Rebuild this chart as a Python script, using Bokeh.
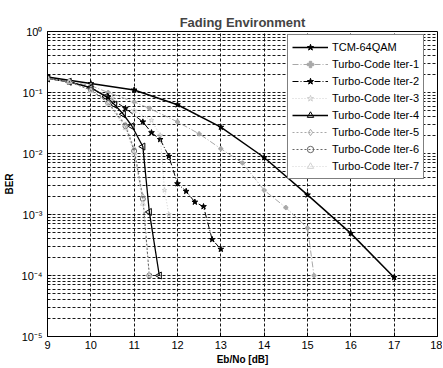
from bokeh.plotting import figure
from bokeh.models import FixedTicker, Legend, LegendItem
from bokeh.embed import file_html
from bokeh.resources import INLINE
import numpy as np

# ---- data ----
tcm_x = [9, 10, 11, 12, 13, 14, 15, 16, 17]
tcm_y = [0.18, 0.14, 0.11, 0.063, 0.027, 0.0086, 0.0021, 0.00049, 0.000093]

it1_x = [9, 9.5, 10, 10.4, 11, 11.35, 12, 12.5, 13, 13.5, 14, 14.5, 15, 15.15]
it1_y = [0.17, 0.15, 0.13, 0.1, 0.07, 0.055, 0.033, 0.021, 0.012, 0.007, 0.0025, 0.0013, 0.0006, 0.0001]

it2_x = [9, 9.5, 10, 10.4, 10.8, 11.2, 11.4, 11.6, 11.8, 12.0, 12.2, 12.4, 12.6, 12.8, 13.0]
it2_y = [0.17, 0.15, 0.12, 0.085, 0.055, 0.033, 0.022, 0.017, 0.009, 0.0032, 0.0024, 0.0016, 0.00135, 0.00039, 0.00027]

it3_x = [9, 9.5, 10, 10.5, 11, 11.4, 11.6, 11.7, 11.8]
it3_y = [0.17, 0.15, 0.12, 0.08, 0.05, 0.035, 0.02, 0.0025, 0.001]

it4_x = [9, 9.5, 10, 10.35, 10.55, 10.75, 10.95, 11.2, 11.35, 11.58]
it4_y = [0.17, 0.15, 0.12, 0.085, 0.063, 0.044, 0.028, 0.013, 0.0011, 0.0001]

it5_x = [9, 9.5, 10, 10.4, 10.8, 11.0, 11.2, 11.35]
it5_y = [0.17, 0.15, 0.11, 0.07, 0.03, 0.012, 0.002, 0.0001]

it6_x = [9, 9.5, 10, 10.4, 10.8, 11.0, 11.2, 11.35]
it6_y = [0.17, 0.15, 0.11, 0.068, 0.028, 0.011, 0.0018, 0.0001]

it7_x = [9, 9.5, 10, 10.4, 10.8, 11.0, 11.2, 11.35]
it7_y = [0.17, 0.15, 0.105, 0.065, 0.026, 0.01, 0.0015, 0.0001]

series_names = ["TCM-64QAM", "Turbo-Code Iter-1", "Turbo-Code Iter-2", "Turbo-Code Iter-3",
                "Turbo-Code Iter-4", "Turbo-Code Iter-5", "Turbo-Code Iter-6", "Turbo-Code Iter-7"]

x_ticks = [9, 10, 11, 12, 13, 14, 15, 16, 17, 18]
y_ticks = [1e-5, 1e-4, 1e-3, 1e-2, 1e-1, 1.0]
y_tick_labels = ["10\u207b\u2075", "10\u207b\u2074", "10\u207b\u00b3", "10\u207b\u00b2", "10\u207b\u00b9", "10\u2070"]

FONT = "Liberation Sans"

p = figure(frame_width=390, frame_height=305, x_range=(9, 18), y_range=(1e-5, 1),
           y_axis_type="log", output_backend="svg", toolbar_location=None,
           min_border_left=40, min_border_right=5, min_border_top=31, min_border_bottom=33,
           title="Fading Environment")
p.background_fill_color = "white"
p.border_fill_color = "white"
p.outline_line_color = "black"
p.outline_line_width = 1

p.title.align = "center"
p.title.text_font = FONT
p.title.text_font_size = "13px"
p.title.text_font_style = "bold"
p.title.standoff = 3
p.title.offset = 0

p.xaxis.ticker = FixedTicker(ticks=x_ticks)
p.yaxis.ticker = FixedTicker(ticks=y_ticks, minor_ticks=[m * 10.0 ** e for e in range(-5, 0) for m in range(2, 10)])
p.yaxis.major_label_overrides = {v: l for v, l in zip(y_ticks, y_tick_labels)}

for ax in (p.xaxis, p.yaxis):
    ax.major_label_text_font = FONT
    ax.major_label_text_font_size = "11px"
    ax.major_label_text_color = "black"
    ax.axis_label_text_font = FONT
    ax.axis_label_text_font_size = "10px"
    ax.axis_label_text_font_style = "bold"
    ax.axis_label_text_color = "black"
    ax.major_tick_in = 4
    ax.major_tick_out = 0
    ax.minor_tick_in = 2
    ax.minor_tick_out = 0
    ax.axis_line_color = "black"

p.xaxis.minor_tick_line_color = None
p.xaxis.axis_label = "Eb/No [dB]"
p.yaxis.axis_label = "BER"
p.xaxis.major_label_standoff = 4
p.xaxis.axis_label_standoff = 2
p.yaxis.major_label_standoff = 5
p.yaxis.axis_label_standoff = 4

p.xgrid.grid_line_color = "black"
p.xgrid.grid_line_dash = "3 2"
p.xgrid.grid_line_alpha = 0.9
p.ygrid.grid_line_color = "black"
p.ygrid.grid_line_dash = "3 2"
p.ygrid.grid_line_alpha = 0.9
p.ygrid.minor_grid_line_color = "black"
p.ygrid.minor_grid_line_dash = "3 2"
p.ygrid.minor_grid_line_alpha = 0.9

items = []

def add(name, xs, ys, color, width, dash, marker, msize, fill, angle=0.0):
    r1 = p.line(xs, ys, line_color=color, line_width=width, line_dash=dash)
    r2 = p.scatter(xs, ys, marker=marker, size=msize, line_color=color,
                   fill_color=fill, line_width=1, angle=angle)
    items.append(LegendItem(label=name, renderers=[r1, r2]))

add(series_names[0], tcm_x, tcm_y, "black", 1.5, "solid", "star", 6, "black")
add(series_names[1], it1_x, it1_y, "#a8a8a8", 1, "6 2 1 2", "plus", 4, "#a8a8a8")
add(series_names[2], it2_x, it2_y, "black", 1, "6 2 1 2", "star", 6, "black")
add(series_names[3], it3_x, it3_y, "#cfcfcf", 1, "1 2", "star", 5, None)
add(series_names[4], it4_x, it4_y, "black", 1.3, "solid", "triangle", 7, None, angle=np.pi / 2)
add(series_names[5], it5_x, it5_y, "#a8a8a8", 1, "2 2", "diamond", 5, None)
add(series_names[6], it6_x, it6_y, "#666666", 1, "2 2", "circle", 5, None)
add(series_names[7], it7_x, it7_y, "#d2d2d2", 1, "1 2", "triangle", 5, None)

legend = Legend(items=items, location=(240, 157))
legend.label_text_font = FONT
legend.label_text_font_size = "11px"
legend.label_text_color = "black"
legend.glyph_width = 36
legend.glyph_height = 16
legend.label_height = 16
legend.label_standoff = 4
legend.spacing = 1
legend.padding = 4
legend.margin = 0
legend.border_line_color = "black"
legend.border_line_width = 1
legend.background_fill_color = "white"
legend.background_fill_alpha = 1.0
p.add_layout(legend)

open("out.html", "w").write(file_html(p, INLINE))
